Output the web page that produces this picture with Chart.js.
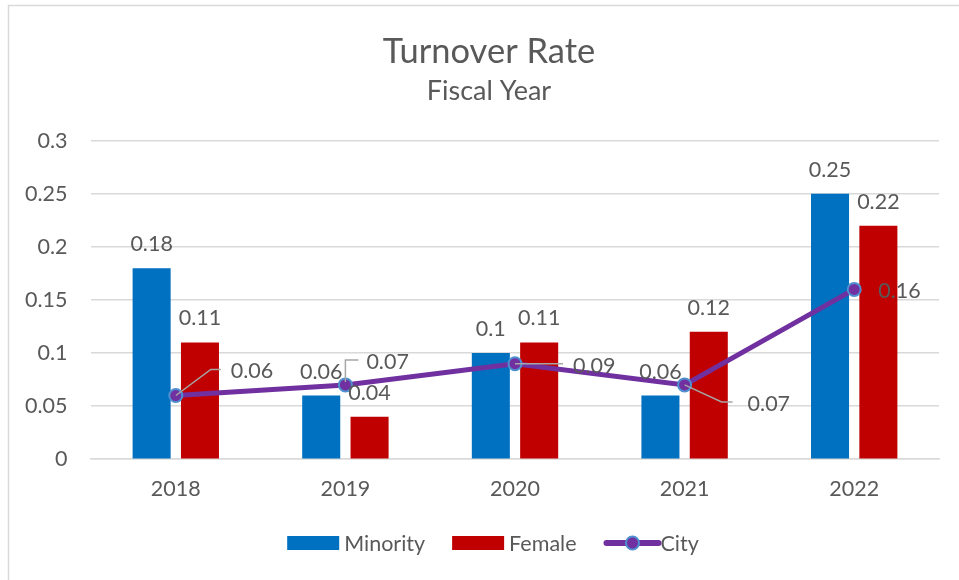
<!DOCTYPE html>
<html>
<head>
<meta charset="utf-8">
<script src="https://cdn.jsdelivr.net/npm/chart.js@4.4.1/dist/chart.umd.min.js"></script>
<style>
  html, body { margin: 0; padding: 0; background: #ffffff; }
  #wrap { width: 959px; height: 580px; position: relative; }
</style>
</head>
<body>
<div id="wrap"><canvas id="c" width="959" height="580"></canvas></div>
<script>
// ---- data ----
const categories = ['2018', '2019', '2020', '2021', '2022'];
const minority = [0.18, 0.06, 0.1, 0.06, 0.25];
const female = [0.11, 0.04, 0.11, 0.12, 0.22];
const city = [0.06, 0.07, 0.09, 0.07, 0.16];
const yTickValues = [0, 0.05, 0.1, 0.15, 0.2, 0.25, 0.3];
const yTickLabels = ['0', '0.05', '0.1', '0.15', '0.2', '0.25', '0.3'];

// ---- styles ----
const FONT = 'Lato, "Open Sans", "Noto Sans", sans-serif';
const LABEL_SIZE = 21.5;
const TEXT = '#595959';
const GRID = '#D9D9D9';
const C_MIN = '#0070C0';
const C_FEM = '#C00000';
const C_CITY = '#7030A0';
const C_MARK_BORDER = '#4F8FD0';
// city label placement relative to point: [dx text-left, dy baseline, leader path points]
const cityLabelPlacement = [
  { dx: 55, dy: 18, leader: [[0, 0], [35, -26], [45, -26]] },
  { dx: 21, dy: 16, leader: [[0, -3], [0, -25], [13, -25]] },
  { dx: 58, dy: -9, leader: [[0, 0], [48, 0]] },
  { dx: 63, dy: -26, leader: [[0, 0], [37, 17], [48, 17]] },
  { dx: 24, dy: -9, leader: null }
];

const framePlugin = {
  id: 'frame',
  beforeDraw(chart) {
    const ctx = chart.ctx;
    ctx.save();
    ctx.fillStyle = '#ffffff';
    ctx.fillRect(0, 0, chart.width, chart.height);
    ctx.strokeStyle = '#D9D9D9';
    ctx.lineWidth = 1.5;
    ctx.strokeRect(8.5, 5.5, chart.width + 20, chart.height + 20);
    ctx.restore();
  }
};

const labelPlugin = {
  id: 'valueLabels',
  afterDatasetsDraw(chart) {
    const ctx = chart.ctx;
    ctx.save();
    ctx.font = LABEL_SIZE + 'px ' + FONT;
    ctx.fillStyle = TEXT;
    ctx.textBaseline = 'alphabetic';
    chart.data.datasets.forEach((ds, di) => {
      const meta = chart.getDatasetMeta(di);
      if (ds.type === 'line') {
        meta.data.forEach((pt, i) => {
          const p = cityLabelPlacement[i];
          if (p.leader) {
            ctx.strokeStyle = '#A6A6A6';
            ctx.lineWidth = 1.5;
            ctx.beginPath();
            p.leader.forEach(([lx, ly], k) => {
              if (k === 0) ctx.moveTo(pt.x + lx, pt.y + ly);
              else ctx.lineTo(pt.x + lx, pt.y + ly);
            });
            ctx.stroke();
          }
          ctx.textAlign = 'left';
          ctx.fillText(String(ds.data[i]), pt.x + p.dx, pt.y - p.dy);
        });
      } else {
        meta.data.forEach((bar, i) => {
          ctx.textAlign = 'center';
          ctx.fillText(String(ds.data[i]), bar.x, bar.y - 17);
        });
      }
    });
    ctx.restore();
  }
};

const legendPlugin = {
  id: 'customLegend',
  afterDraw(chart) {
    const ctx = chart.ctx;
    ctx.save();
    ctx.font = LABEL_SIZE + 'px ' + FONT;
    const items = chart.data.datasets.map(ds => ({
      label: ds.label, type: ds.type || 'bar',
      color: ds.type === 'line' ? ds.borderColor : ds.backgroundColor,
      markBorder: ds.pointBorderColor
    }));
    const symW = 52, symGap = 5, itemGap = 27;
    let total = 0;
    items.forEach((it, i) => {
      it.tw = ctx.measureText(it.label).width;
      total += symW + symGap + it.tw + (i < items.length - 1 ? itemGap : 0);
    });
    const cx = (chart.chartArea.left + chart.chartArea.right) / 2 - 22;
    let x = cx - total / 2;
    const y = 543;
    items.forEach(it => {
      if (it.type === 'line') {
        ctx.strokeStyle = it.color;
        ctx.lineWidth = 6;
        ctx.lineCap = 'round';
        ctx.beginPath();
        ctx.moveTo(x + 3, y);
        ctx.lineTo(x + symW + 3, y);
        ctx.stroke();
        ctx.beginPath();
        ctx.arc(x + symW / 2 + 3, y, 6.5, 0, Math.PI * 2);
        ctx.fillStyle = it.color;
        ctx.fill();
        ctx.lineWidth = 2;
        ctx.strokeStyle = it.markBorder;
        ctx.stroke();
      } else {
        ctx.fillStyle = it.color;
        ctx.fillRect(x, y - 7, symW, 14);
      }
      ctx.fillStyle = TEXT;
      ctx.textAlign = 'left';
      ctx.textBaseline = 'middle';
      ctx.fillText(it.label, x + symW + symGap, y + 1);
      x += symW + symGap + it.tw + itemGap;
    });
    ctx.restore();
  }
};

new Chart(document.getElementById('c'), {
  type: 'bar',
  data: {
    labels: categories,
    datasets: [
      { label: 'Minority', data: minority, backgroundColor: C_MIN, order: 1,
        categoryPercentage: 0.57, barPercentage: 0.787 },
      { label: 'Female', data: female, backgroundColor: C_FEM, order: 1,
        categoryPercentage: 0.57, barPercentage: 0.787 },
      { label: 'City', type: 'line', data: city, borderColor: C_CITY, borderWidth: 5,
        backgroundColor: C_CITY, pointBackgroundColor: C_CITY,
        pointBorderColor: C_MARK_BORDER, pointBorderWidth: 2, pointRadius: 6.5,
        tension: 0, fill: false, order: 0 }
    ]
  },
  options: {
    responsive: false,
    animation: false,
    devicePixelRatio: 1,
    layout: { padding: { top: 14, left: 39, right: 20, bottom: 61 } },
    plugins: {
      legend: { display: false },
      tooltip: { enabled: false },
      title: {
        display: true, text: 'Turnover Rate', color: TEXT,
        font: { family: FONT, size: 34.5, weight: 'normal', lineHeight: 1.2 },
        padding: { top: 17, bottom: 3 }
      },
      subtitle: {
        display: true, text: 'Fiscal Year', color: TEXT,
        font: { family: FONT, size: 27, weight: 'normal', lineHeight: 1.2 },
        padding: { top: 0, bottom: 33 }
      }
    },
    scales: {
      x: {
        grid: { display: false, drawTicks: false },
        border: { display: true, color: GRID, width: 1.5 },
        ticks: { color: TEXT, padding: 17, font: { family: FONT, size: LABEL_SIZE } }
      },
      y: {
        min: 0, max: 0.3,
        afterBuildTicks(scale) { scale.ticks = yTickValues.map(v => ({ value: v })); },
        afterFit(scale) { scale.width = 52; },
        grid: { color: GRID, lineWidth: 1.5, drawTicks: false },
        border: { display: false },
        ticks: {
          mirror: true, crossAlign: 'far', z: 1,
          color: TEXT, padding: -66, font: { family: FONT, size: LABEL_SIZE },
          callback: (v) => { const i = yTickValues.indexOf(v); return i >= 0 ? yTickLabels[i] : ''; }
        }
      }
    }
  },
  plugins: [framePlugin, labelPlugin, legendPlugin]
});
</script>
</body>
</html>
